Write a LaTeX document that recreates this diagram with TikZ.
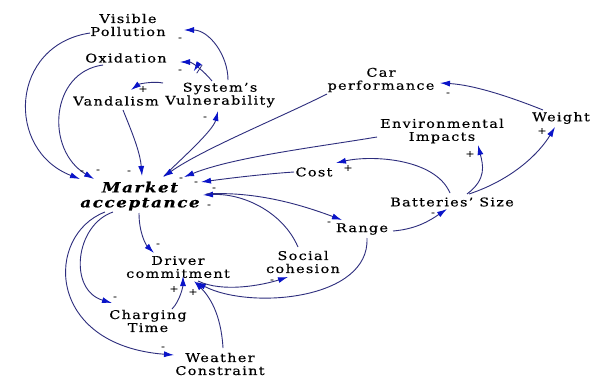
\documentclass[tikz,border=0pt]{standalone}
\usepackage{fontspec}
\setmainfont{DejaVu Serif}[FakeStretch=1.2, LetterSpace=11, FakeBold=0.4]
\usetikzlibrary{arrows.meta,decorations.markings}
\definecolor{linec}{RGB}{45,45,125}
\definecolor{tipc}{RGB}{10,20,200}
\tikzset{
  var/.style={inner sep=1pt, align=center, font=\fontsize{12}{13}\selectfont},
  keyvar/.style={inner sep=1pt, align=center, font=\fontsize{14}{15}\selectfont\bfseries\itshape},
  link/.style={draw=linec, line width=0.9pt, -{Latex[length=10pt,width=6pt,color=tipc]}},
  sgn/.style={font=\fontsize{9}{9}\selectfont, inner sep=0pt, text=black},
  delaymark/.style={postaction={decorate, decoration={markings,
     mark=at position #1 with {\draw[linec, line width=0.8pt] (-1.8pt,-5pt)--(-1.8pt,5pt) (1.8pt,-5pt)--(1.8pt,5pt);}}}}
}
\begin{document}
\begin{tikzpicture}[x=1pt,y=-1pt]
\fill[white] (0,0) rectangle (600,378);
\useasboundingbox (0,0) rectangle (600,378);
% variables
\node[var] (VP) at (128,25) {Visible\\Pollution};
\node[var] (Ox) at (126,58) {Oxidation};
\node[var] (SV) at (220,95) {System's\\Vulnerability};
\node[var] (Vand) at (116,101) {Vandalism};
\node[var] (Car) at (381,80) {Car\\performance};
\node[var] (Wt) at (561,118) {Weight};
\node[var] (Env) at (442,131) {Environmental\\Impacts};
\node[var] (Cost) at (314,172) {Cost};
\node[var] (Batt) at (452,202) {Batteries' Size};
\node[keyvar] (MA) at (140,196) {Market\\acceptance};
\node[var] (Range) at (362,229) {Range};
\node[var] (SC) at (303,262) {Social\\cohesion};
\node[var] (DC) at (178,267) {Driver\\commitment};
\node[var] (CT) at (148,321) {Charging\\Time};
\node[var] (WC) at (220,364) {Weather\\Constraint};
% links
\draw[link] ([shift={(8,-15)}]SV.center) .. controls +(0,-25) and +(25,0) .. ([shift={(56,5)}]VP.center);
\draw[link, delaymark=0.5] ([shift={(-8,-14)}]SV.center) .. controls +(-8,-10) and +(12,0) .. ([shift={(54,4)}]Ox.center);
\draw[link] ([shift={(-57,-12)}]SV.center) .. controls +(-10,-2) and +(8,-6) .. ([shift={(15,-11)}]Vand.center);
\draw[link] ([shift={(-38,8)}]VP.center) .. controls +(-80,12) and +(-75,-29) .. ([shift={(-60,-17)}]MA.center);
\draw[link] ([shift={(-23,7)}]Ox.center) .. controls +(-53,7) and +(-49,-29) .. ([shift={(-46,-17)}]MA.center);
\draw[link] ([shift={(7,9)}]Vand.center) .. controls +(8,20) and +(-2,-25) .. ([shift={(2,-20)}]MA.center);
\draw[link] ([shift={(24,-20)}]MA.center) .. controls +(15,-15) and +(-5,20) .. ([shift={(-2,16)}]SV.center);
\draw[link] ([shift={(-54,14)}]Car.center) .. controls +(-50,25) and +(40,-28) .. ([shift={(23,-19)}]MA.center);
\draw[link] ([shift={(-65,6)}]Env.center) .. controls +(-60,10) and +(50,-20) .. ([shift={(44,-19)}]MA.center);
\draw[link] ([shift={(-20,0)}]Cost.center) .. controls +(-30,2) and +(30,-4) .. ([shift={(61,-14)}]MA.center);
\draw[link] ([shift={(-5,-15)}]SC.center) .. controls +(-15,-35) and +(40,-2) .. ([shift={(63,-1)}]MA.center);
\draw[link] ([shift={(66,-2)}]MA.center) .. controls +(50,-3) and +(-40,-15) .. ([shift={(-20,-9)}]Range.center);
\draw[link] ([shift={(31,2)}]Range.center) .. controls +(25,-2) and +(-15,10) .. ([shift={(-5,7)}]Batt.center);
\draw[link] ([shift={(-2,-9)}]Batt.center) .. controls +(-15,-35) and +(35,-8) .. ([shift={(22,-9)}]Cost.center);
\draw[link] ([shift={(15,-8)}]Batt.center) .. controls +(20,-15) and +(5,20) .. ([shift={(36,14)}]Env.center);
\draw[link] ([shift={(17,-8)}]Batt.center) .. controls +(45,-15) and +(-15,25) .. ([shift={(-6,9)}]Wt.center);
\draw[link] ([shift={(-18,-8)}]Wt.center) .. controls +(-30,-12) and +(35,2) .. ([shift={(59,3)}]Car.center);
\draw[link] ([shift={(-1,17)}]MA.center) .. controls +(0,20) and +(-8,-8) .. ([shift={(-24,-14)}]DC.center);
\draw[link] ([shift={(-27,16)}]MA.center) .. controls +(-38,13) and +(-44,-13) .. ([shift={(-36,-18)}]CT.center);
\draw[link] ([shift={(-35,16)}]MA.center) .. controls +(-60,23) and +(-129,-10) .. ([shift={(-46,-9)}]WC.center);
\draw[link] ([shift={(24,-12)}]CT.center) .. controls +(8,-8) and +(0,10) .. ([shift={(5,9)}]DC.center);
\draw[link] ([shift={(3,-16)}]WC.center) .. controls +(-2,-35) and +(15,15) .. ([shift={(16,14)}]DC.center);
\draw[link] ([shift={(5,9)}]Range.center) .. controls +(3,62) and +(54,28) .. ([shift={(18,15)}]DC.center);
\draw[link] ([shift={(20,14)}]DC.center) .. controls +(25,12) and +(-25,8) .. ([shift={(-15,15)}]SC.center);
% polarity signs
\node[sgn] (s1) at (180,39) {-};
\node[sgn] (s2) at (180,71) {-};
\node[sgn] (s3) at (143,89) {+};
\node[sgn] (s4) at (82,172) {-};
\node[sgn] (s5) at (98,171) {-};
\node[sgn] (s6) at (129,172) {-};
\node[sgn] (s7) at (205,118) {-};
\node[sgn] (s8) at (181,179) {-};
\node[sgn] (s9) at (196,183) {-};
\node[sgn] (s10) at (214,189) {-};
\node[sgn] (s11) at (209,206) {-};
\node[sgn] (s12) at (329,223) {-};
\node[sgn] (s13) at (433,214) {-};
\node[sgn] (s14) at (348,168) {+};
\node[sgn] (s15) at (470,154) {+};
\node[sgn] (s16) at (542,131) {+};
\node[sgn] (s17) at (448,94) {-};
\node[sgn] (s18) at (158,245) {-};
\node[sgn] (s19) at (115,298) {-};
\node[sgn] (s20) at (163,348) {-};
\node[sgn] (s21) at (174,289) {+};
\node[sgn] (s22) at (193,292) {+};
\node[sgn] (s23) at (272,281) {-};
\end{tikzpicture}
\end{document}
